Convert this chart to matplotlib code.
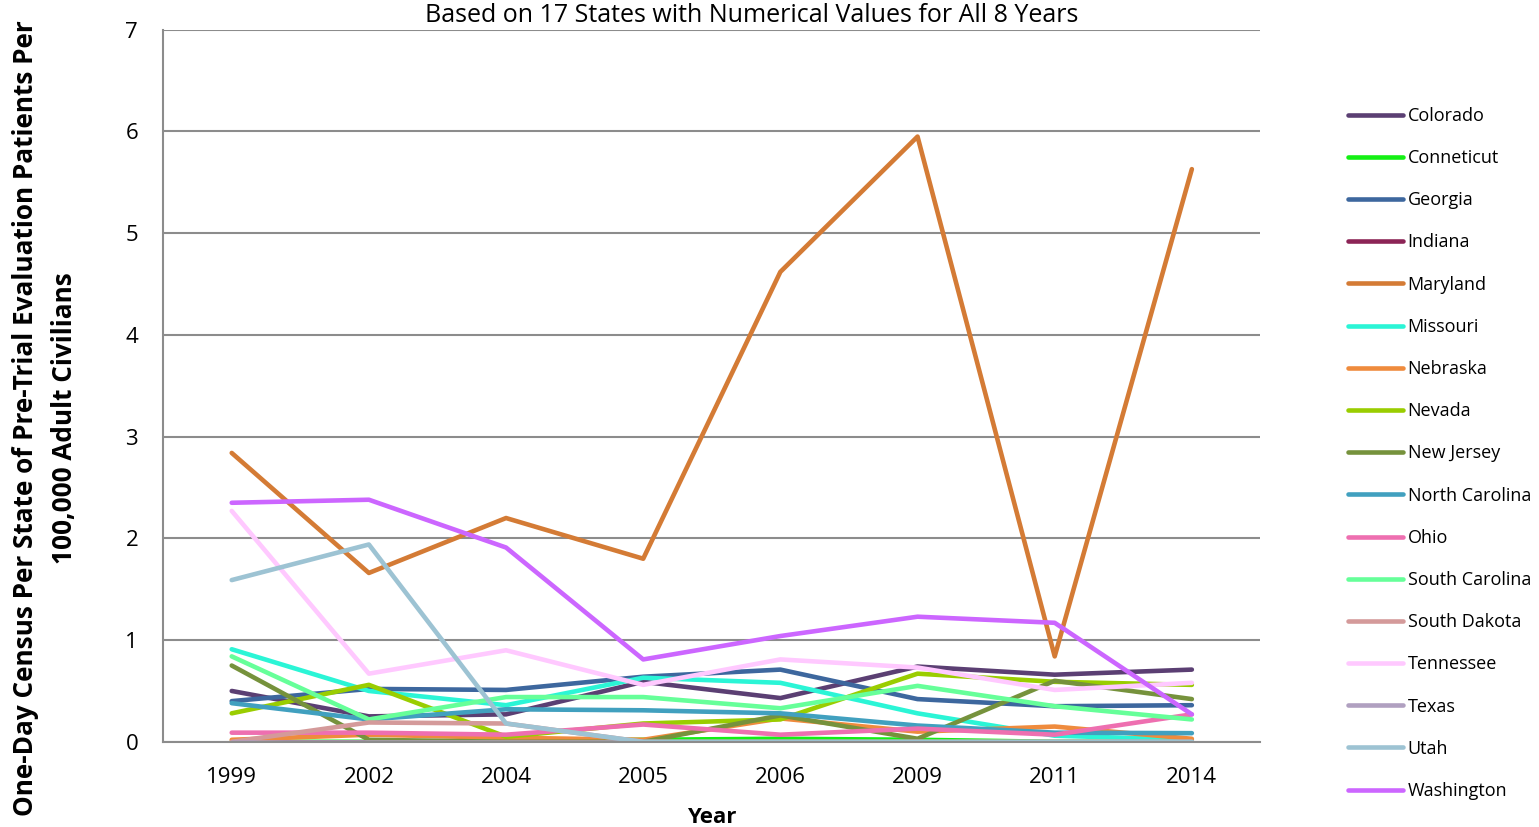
import numpy as np
import matplotlib
matplotlib.use("Agg")
import matplotlib.pyplot as plt

plt.rcParams['font.family'] = ['Open Sans', 'DejaVu Sans']

# Years (categorical x axis)
years = ['1999', '2002', '2004', '2005', '2006', '2009', '2011', '2014']

# One value per year for each state
colorado       = [0.50, 0.25, 0.27, 0.59, 0.43, 0.74, 0.66, 0.71]
connecticut    = [0.00, 0.00, 0.00, 0.02, 0.03, 0.02, 0.00, 0.00]
georgia        = [0.40, 0.52, 0.51, 0.64, 0.71, 0.42, 0.35, 0.36]
indiana        = [0.00, 0.00, 0.00, 0.00, 0.00, 0.00, 0.00, 0.00]
maryland       = [2.84, 1.66, 2.20, 1.80, 4.62, 5.95, 0.84, 5.63]
missouri       = [0.91, 0.50, 0.36, 0.63, 0.58, 0.28, 0.06, 0.02]
nebraska       = [0.02, 0.07, 0.04, 0.02, 0.23, 0.10, 0.15, 0.03]
nevada         = [0.28, 0.56, 0.05, 0.18, 0.22, 0.67, 0.59, 0.56]
new_jersey     = [0.75, 0.02, 0.00, 0.00, 0.26, 0.03, 0.60, 0.42]
north_carolina = [0.38, 0.22, 0.32, 0.31, 0.28, 0.16, 0.09, 0.085]
ohio           = [0.09, 0.09, 0.07, 0.17, 0.07, 0.13, 0.07, 0.27]
south_carolina = [0.84, 0.22, 0.44, 0.44, 0.33, 0.55, 0.35, 0.22]
south_dakota   = [0.00, 0.19, 0.18, 0.00, 0.00, 0.00, 0.00, 0.00]
tennessee      = [2.27, 0.67, 0.90, 0.56, 0.81, 0.73, 0.51, 0.58]
texas          = [0.00, 0.00, 0.00, 0.00, 0.00, 0.00, 0.00, 0.00]
utah           = [1.59, 1.94, 0.18, 0.00, 0.00, 0.00, 0.00, 0.00]
washington     = [2.35, 2.38, 1.91, 0.81, 1.04, 1.23, 1.17, 0.27]

states = ['Colorado', 'Conneticut', 'Georgia', 'Indiana', 'Maryland', 'Missouri',
          'Nebraska', 'Nevada', 'New Jersey', 'North Carolina', 'Ohio',
          'South Carolina', 'South Dakota', 'Tennessee', 'Texas', 'Utah', 'Washington']
series = [colorado, connecticut, georgia, indiana, maryland, missouri, nebraska,
          nevada, new_jersey, north_carolina, ohio, south_carolina, south_dakota,
          tennessee, texas, utah, washington]
colors = ['#5B3F73', '#14F014', '#3D679E', '#8C2456', '#D47B35', '#2BF5D6',
          '#EF8B3D', '#9ACD00', '#76923C', '#41A0BF', '#EE6FB0', '#66FF99',
          '#D49A9A', '#FFC9FF', '#B0A0C0', '#9DC3D3', '#CC66FF']

fig = plt.figure(figsize=(15.39, 8.27), dpi=100)
ax = fig.add_axes([0.106, 0.103, 0.713, 0.861])

x = np.arange(len(years))
for name, vals, col in zip(states, series, colors):
    ax.plot(x, vals, color=col, linewidth=3.3, label=name,
            solid_capstyle='round', solid_joinstyle='round')

ax.set_xlim(-0.5, len(years) - 0.5)
ax.set_ylim(0, 7)
ax.set_xticks(x)
ax.set_xticklabels(years, fontsize=16)
ax.set_yticks(range(0, 8))
ax.tick_params(axis='y', labelsize=16, length=0, pad=18)
ax.tick_params(axis='x', length=0, pad=18)
ax.grid(axis='y', color='#8c8c8c', linewidth=1.5)
ax.set_axisbelow(True)
for side in ['top', 'right']:
    ax.spines[side].set_visible(False)
for side in ['left', 'bottom']:
    ax.spines[side].set_color('#8c8c8c')
    ax.spines[side].set_linewidth(1.5)

ax.set_xlabel('Year', fontsize=16, fontweight='bold', labelpad=14)
fig.text(45 / 1539, 1 - 418 / 827,
         'One-Day Census Per State of Pre-Trial Evaluation Patients Per\n'
         '100,000 Adult Civilians', fontsize=18.8, fontweight='bold',
         rotation=90, ha='center', va='center', linespacing=1.55,
         multialignment='center')

fig.text(752 / 1539, 1 - 16 / 827, 'Based on 17 States with Numerical Values for All 8 Years',
         ha='center', va='center', fontsize=18)

ax.legend(loc='center left', bbox_to_anchor=(1.073, 0.405), frameon=False,
          fontsize=13, handlelength=3.05, handletextpad=0.27, labelspacing=1.34,
          borderaxespad=0)

fig.savefig('out.png', dpi=100)
